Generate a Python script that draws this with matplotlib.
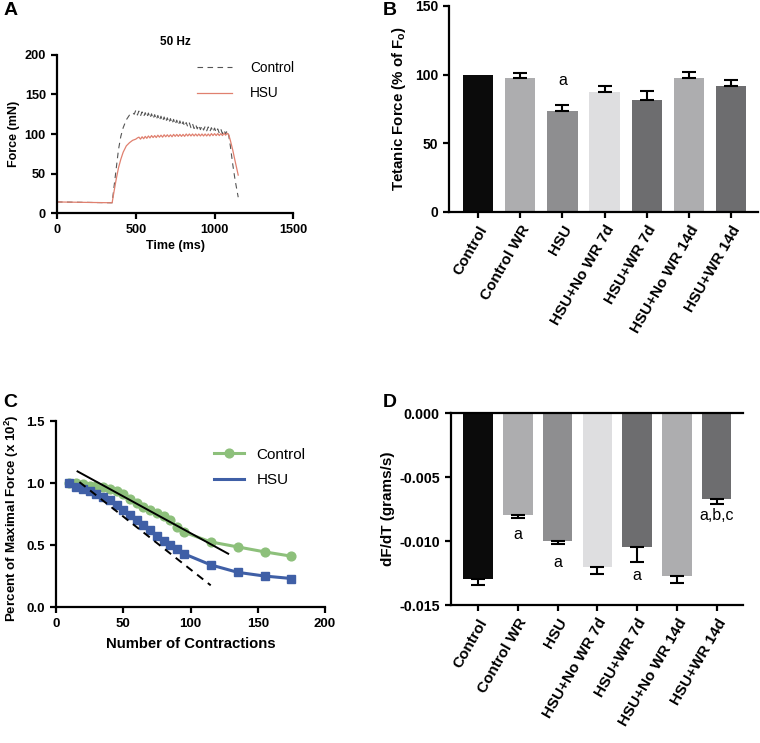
import matplotlib
matplotlib.use("Agg")
import matplotlib.pyplot as plt
from matplotlib.lines import Line2D
import numpy as np

plt.rcParams['font.family'] = ['Liberation Sans', 'DejaVu Sans']
plt.rcParams['mathtext.fontset'] = 'custom'
plt.rcParams['mathtext.rm'] = 'Liberation Sans'
plt.rcParams['mathtext.bf'] = 'Liberation Sans:bold'
plt.rcParams['mathtext.it'] = 'Liberation Sans:italic'

# ---------------- Panel A data (force traces, 50 Hz) ----------------
t_ctrl = [0, 340, 350, 360, 375, 390, 405, 420, 440, 460, 480, 490,
          500, 510, 520, 530, 540, 550, 560, 570, 580, 590, 600, 610, 620, 630, 640, 650,
          660, 670, 680, 690, 700, 710, 720, 730, 740, 750, 760, 770, 780, 790, 800, 810,
          820, 830, 840, 850, 860, 870, 880, 890, 900, 910, 920, 930, 940, 950, 960, 970,
          980, 990, 1000, 1010, 1020, 1030, 1040, 1050, 1060, 1070, 1080,
          1090, 1100, 1115, 1130, 1150]
f_ctrl = [14, 13, 13, 30, 55, 80, 97, 108, 118, 124, 127, 125,
          130, 124, 129, 123, 128, 122, 127, 121, 126.5, 120, 125.5, 119, 124.5, 118, 123.5, 117,
          122.5, 116, 121.5, 115, 120.5, 114, 119.5, 113, 118.5, 112, 117.5, 111, 116.5, 110.5, 115.5, 109.5,
          114.5, 109, 114, 108, 113, 107, 112, 106.5, 111.5, 105.5, 110.5, 105, 109.5, 104, 109, 103,
          108, 102.5, 107.5, 102, 106.5, 101, 106, 100.5, 105, 100, 104.5,
          98, 85, 62, 42, 20]

t_hsu = [0, 340, 350, 360, 375, 390, 405, 420, 440, 460, 480, 500, 510,
         520, 530, 540, 550, 560, 570, 580, 590, 600, 610, 620, 630, 640, 650,
         660, 670, 680, 690, 700, 710, 720, 730, 740, 750, 760, 770, 780, 790, 800, 810,
         820, 830, 840, 850, 860, 870, 880, 890, 900, 910, 920, 930, 940, 950, 960, 970,
         980, 990, 1000, 1010, 1020, 1030, 1040, 1050, 1060, 1070, 1080,
         1090, 1100, 1115, 1130, 1150]
f_hsu = [14, 13, 13, 25, 42, 57, 68, 77, 85, 89, 92, 93.5, 95,
         96, 93.5, 96.5, 94, 97, 94.5, 97.5, 95, 98, 95.5, 98, 95.5, 98.5, 96,
         98.5, 96, 99, 96.5, 99, 96.5, 99, 96.5, 99.5, 97, 99.5, 97, 99.5, 97, 99.5, 97,
         100, 97.5, 100, 97.5, 100, 97.5, 100, 97.5, 100, 97.5, 100, 97.5, 100, 97.5, 100, 97.5,
         100.5, 98, 100.5, 98, 100.5, 98, 100.5, 98, 101, 98.5, 101,
         99, 92, 80, 66, 48]

# ---------------- Panel B / D data ----------------
groups = ["Control", "Control WR", "HSU", "HSU+No WR 7d", "HSU+WR 7d",
          "HSU+No WR 14d", "HSU+WR 14d"]
bar_colors = ["#0b0b0b", "#adadaf", "#8e8e90", "#dedee0", "#6d6d6f", "#adadaf", "#6d6d6f"]

tetanic = [100, 97.8, 73.5, 87.5, 81.5, 97.5, 91.5]
tetanic_err = [0, 3.2, 4.2, 4.5, 6.5, 4.5, 4.5]
tetanic_sig = ["", "", "a", "", "", "", ""]

dfdt = [-0.0130, -0.0080, -0.0100, -0.0120, -0.0105, -0.0127, -0.0067]
dfdt_err = [0.0004, 0.0002, 0.0002, 0.0006, 0.0011, 0.0006, 0.0004]
dfdt_sig = ["", "a", "a", "", "a", "", "a,b,c"]
dfdt_sig_y = [0, -0.0095, -0.0117, 0, -0.0127, 0, -0.0080]

# ---------------- Panel C data (fatigue) ----------------
contr_x = [10, 15, 20, 25, 30, 35, 40, 45, 50, 55, 60, 65, 70, 75, 80, 85, 90, 95,
           115, 135, 155, 175]
ctrl_fat = [1.0, 1.0, 0.99, 0.98, 0.975, 0.97, 0.955, 0.935, 0.91, 0.875, 0.84, 0.81,
            0.78, 0.755, 0.735, 0.70, 0.645, 0.605, 0.525, 0.485, 0.445, 0.41]
hsu_fat = [1.0, 0.968, 0.952, 0.933, 0.909, 0.887, 0.86, 0.82, 0.78, 0.739, 0.699,
           0.659, 0.618, 0.575, 0.535, 0.50, 0.465, 0.43, 0.34, 0.28, 0.25, 0.23]
fit_ctrl_x = [16, 128]
fit_ctrl_y = [1.094, 0.43]
fit_hsu_x = [17.4, 115]
fit_hsu_y = [1.008, 0.175]

green = "#8dc07b"
blue = "#3f5fa6"

fig = plt.figure(figsize=(7.6, 7.43), dpi=100)

SPW = 1.6


def style(ax, tick_fs):
    for s in ["top", "right"]:
        ax.spines[s].set_visible(False)
    for s in ["left", "bottom"]:
        ax.spines[s].set_linewidth(SPW)
    ax.tick_params(width=SPW, length=4.5, labelsize=tick_fs)
    for lab in ax.get_xticklabels() + ax.get_yticklabels():
        lab.set_fontweight("bold")


# ---------------- Panel A ----------------
axA = fig.add_axes([0.075, 0.7133, 0.311, 0.2127])
axA.plot(t_ctrl, f_ctrl, color="#555555", lw=0.8, ls=(0, (5, 4)), label="Control")
axA.plot(t_hsu, f_hsu, color="#e0806f", lw=0.9, label="HSU")
axA.set_xlim(0, 1500)
axA.set_ylim(0, 200)
axA.set_xticks([0, 500, 1000, 1500])
axA.set_yticks([0, 50, 100, 150, 200])
style(axA, 9.2)
axA.set_xlabel("Time (ms)", fontsize=9, fontweight="bold", labelpad=3)
axA.set_ylabel("Force (mN)", fontsize=9, fontweight="bold", labelpad=3)
axA.set_title("50 Hz", fontsize=8.5, fontweight="bold", pad=7)
axA.legend(loc="upper left", bbox_to_anchor=(0.54, 1.04), frameon=False,
           fontsize=9.8, handlelength=2.6, handletextpad=1.3, labelspacing=0.85)

# ---------------- Panel B ----------------
xs = np.arange(len(groups))
axB = fig.add_axes([0.5908, 0.7147, 0.4066, 0.2773])
axB.bar(xs, tetanic, width=0.72, color=bar_colors, zorder=2)
for x, v, e in zip(xs, tetanic, tetanic_err):
    if e > 0:
        axB.errorbar([x], [v], yerr=[[0], [e]], fmt="none", ecolor="black",
                     elinewidth=1.5, capsize=5, capthick=1.5, zorder=3)
for x, v, e, s in zip(xs, tetanic, tetanic_err, tetanic_sig):
    if s:
        axB.text(x, 96, s, ha="center", va="center", fontsize=11.5)
axB.set_xlim(-0.69, 6.64)
axB.set_ylim(0, 150)
axB.set_yticks([0, 50, 100, 150])
axB.set_xticks(xs)
axB.set_xticklabels(groups, rotation=60, ha="right", rotation_mode="anchor")
style(axB, 10)
for lab in axB.get_xticklabels():
    lab.set_fontsize(11)
axB.set_ylabel("Tetanic Force (% of F$_\\mathbf{o}$)", fontsize=10.8, fontweight="bold", labelpad=5)

# ---------------- Panel C ----------------
axC = fig.add_axes([0.0737, 0.183, 0.354, 0.2503])
axC.plot(contr_x, ctrl_fat, color=green, lw=2.2, marker="o", ms=6.3, zorder=3)
axC.plot(contr_x, hsu_fat, color=blue, lw=2.2, marker="s", ms=5.8, zorder=3)
axC.plot(fit_ctrl_x, fit_ctrl_y, color="black", lw=1.4, zorder=4)
axC.plot(fit_hsu_x, fit_hsu_y, color="black", lw=1.4, ls=(0, (4, 3)), zorder=4)
axC.set_xlim(0, 200)
axC.set_ylim(0, 1.5)
axC.set_xticks([0, 50, 100, 150, 200])
axC.set_yticks([0.0, 0.5, 1.0, 1.5])
axC.set_yticklabels(["0.0", "0.5", "1.0", "1.5"])
style(axC, 9.5)
axC.set_xlabel("Number of Contractions", fontsize=10.7, fontweight="bold", labelpad=5)
axC.set_ylabel("Percent of Maximal Force (x 10$^\\mathbf{2}$)", fontsize=9.6,
               fontweight="bold")
axC.yaxis.set_label_coords(-0.13, 0.48)
handles = [Line2D([], [], color=green, lw=2.2, marker="o", ms=6.3),
           Line2D([], [], color=blue, lw=2.2)]
axC.legend(handles, ["Control", "HSU"], loc="upper left", bbox_to_anchor=(0.535, 0.93),
           frameon=False, fontsize=11, handlelength=2.0, handletextpad=0.8,
           labelspacing=0.75)

# ---------------- Panel D ----------------
axD = fig.add_axes([0.5934, 0.1857, 0.3842, 0.2584])
axD.bar(xs, dfdt, width=0.74, color=bar_colors, zorder=2)
axD.errorbar(xs, dfdt, yerr=[dfdt_err, [0] * len(xs)], fmt="none",
             ecolor="black", elinewidth=1.5, capsize=5, capthick=1.5, zorder=3)
for x, s, yy in zip(xs, dfdt_sig, dfdt_sig_y):
    if s:
        axD.text(x, yy, s, ha="center", va="center", fontsize=11.5)
axD.set_xlim(-0.68, 6.66)
axD.set_ylim(-0.015, 0)
axD.set_yticks([0.0, -0.005, -0.010, -0.015])
axD.set_yticklabels(["0.000", "-0.005", "-0.010", "-0.015"])
axD.set_xticks(xs)
axD.set_xticklabels(groups, rotation=60, ha="right", rotation_mode="anchor")
style(axD, 10.3)
axD.spines["top"].set_visible(True)
axD.spines["top"].set_linewidth(SPW)
axD.spines["top"].set_zorder(5)
for lab in axD.get_xticklabels():
    lab.set_fontsize(11)
axD.set_ylabel("dF/dT (grams/s)", fontsize=11, fontweight="bold", labelpad=3)

# ---------------- Panel letters ----------------
for lbl, x, y in [("A", 0.004, 0.997), ("B", 0.503, 0.997), ("C", 0.004, 0.47), ("D", 0.503, 0.47)]:
    fig.text(x, y, lbl, fontsize=14, fontweight="bold", ha="left", va="top")

fig.savefig("out.png", dpi=100)
